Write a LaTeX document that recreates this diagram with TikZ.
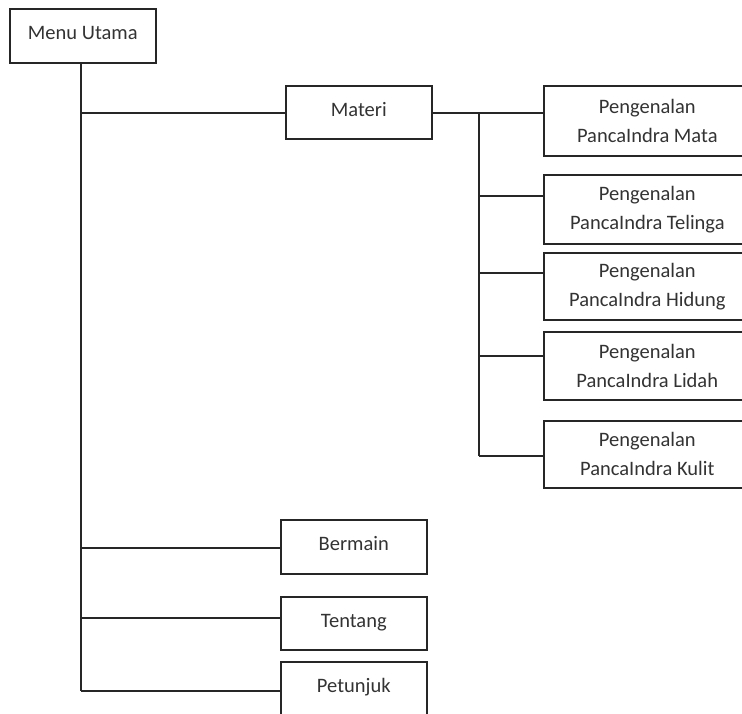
\documentclass[tikz,border=0pt]{standalone}
\usepackage{fontspec}
\setmainfont{Carlito}
\begin{document}
\begin{tikzpicture}[x=1pt,y=-1pt,
  conn/.style={line width=1.5pt, draw=black!85},
  box/.style={draw=black!85, line width=1.6pt, inner sep=0pt, anchor=north west, fill=white,
    text=black!80, font=\fontsize{20.5}{29}\selectfont},
  onebox/.style={box, text height=13.2pt, text depth=5pt},
  twobox/.style={box, align=center, minimum width=207pt}]
\clip (0,0) rectangle (742,713);
\fill[white] (0,0) rectangle (742,713);
% boxes
\node[onebox, minimum width=146pt, minimum height=54pt] (menu) at (9,8) {Menu Utama};
\node[onebox, minimum width=146pt, minimum height=53pt] (materi) at (285,85) {Materi};
\node[twobox, minimum height=70pt] (mata) at (543,85) {Pengenalan\\PancaIndra Mata};
\node[twobox, minimum height=69pt] (telinga) at (543,174) {Pengenalan\\PancaIndra Telinga};
\node[twobox, minimum height=67pt] (hidung) at (543,252) {Pengenalan\\PancaIndra Hidung};
\node[twobox, minimum height=68pt] (lidah) at (543,331) {Pengenalan\\PancaIndra Lidah};
\node[twobox, minimum height=67pt] (kulit) at (543,420) {Pengenalan\\PancaIndra Kulit};
\node[onebox, minimum width=146pt, minimum height=54pt] (bermain) at (280,519) {Bermain};
\node[onebox, minimum width=146pt, minimum height=53pt] (tentang) at (280,596) {Tentang};
\node[onebox, minimum width=146pt, minimum height=54pt] (petunjuk) at (280,661) {Petunjuk};
% trunk coordinates
\coordinate (tMateri) at (81,113);
\coordinate (tBermain) at (81,548);
\coordinate (tTentang) at (81,618);
\coordinate (tPetunjuk) at (81,691);
% branch coordinates
\coordinate (bMata) at (479,113);
\coordinate (bTelinga) at (479,196);
\coordinate (bHidung) at (479,273);
\coordinate (bLidah) at (479,356);
\coordinate (bKulit) at (479,456);
% connectors
\draw[conn] (menu.south -| tPetunjuk) -- (tPetunjuk);
\draw[conn] (tMateri) -- (tMateri -| materi.west);
\draw[conn] (tBermain) -- (tBermain -| bermain.west);
\draw[conn] (tTentang) -- (tTentang -| tentang.west);
\draw[conn] (tPetunjuk) -- (tPetunjuk -| petunjuk.west);
\draw[conn] (bMata -| materi.east) -- (bMata -| mata.west);
\draw[conn] (bMata) -- (bKulit);
\draw[conn] (bTelinga) -- (bTelinga -| telinga.west);
\draw[conn] (bHidung) -- (bHidung -| hidung.west);
\draw[conn] (bLidah) -- (bLidah -| lidah.west);
\draw[conn] (bKulit) -- (bKulit -| kulit.west);
\end{tikzpicture}
\end{document}
